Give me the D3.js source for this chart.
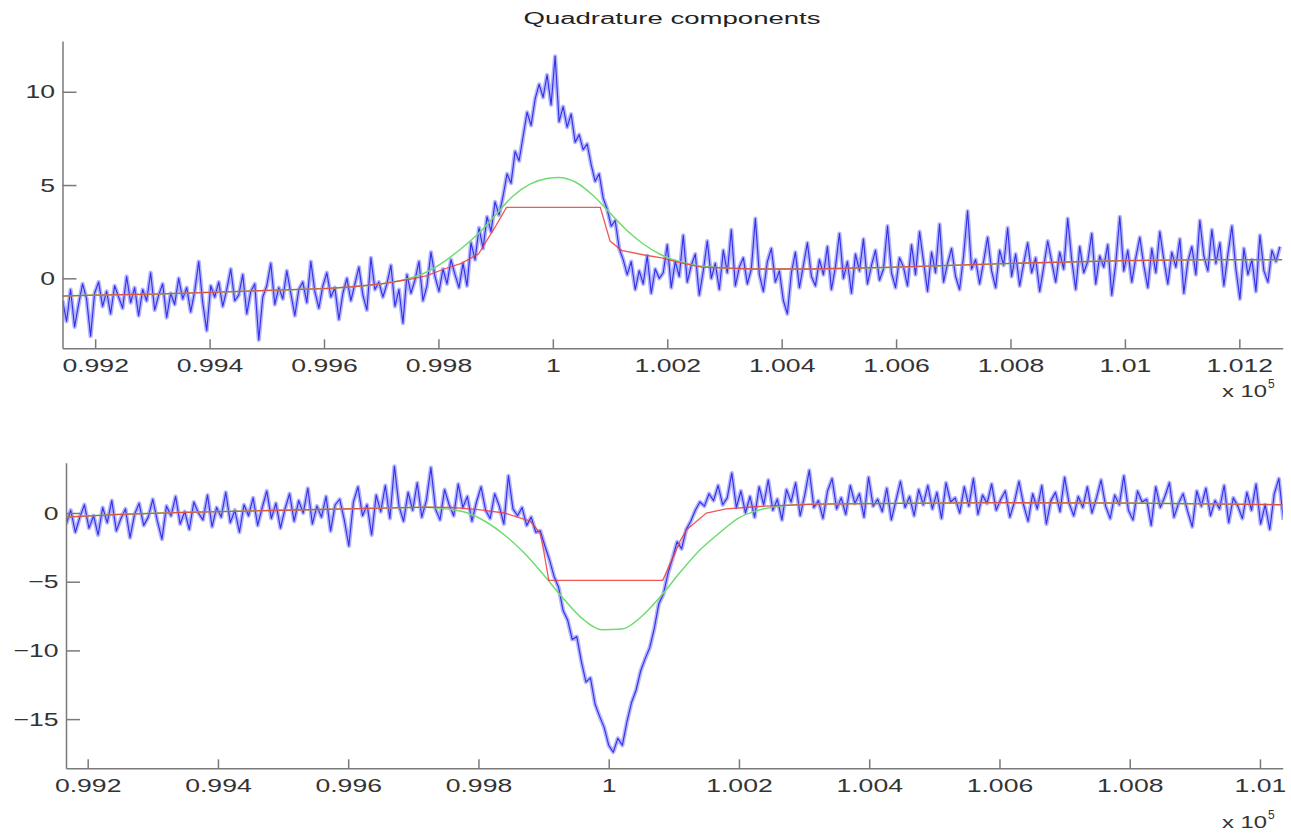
<!DOCTYPE html>
<html>
<head>
<meta charset="utf-8">
<script src="https://cdn.jsdelivr.net/npm/d3@7"></script>
<style>
  body { margin: 0; background: #fff; }
  text { font-family: "Liberation Sans", Arial, Helvetica, sans-serif; }
</style>
</head>
<body>
<script>
let title = "Quadrature components"

// sample spacing of the measured signal (x in units of 1e5)
let sampleStep = 0.00007

// ---- upper panel ----
let topBlueStart = 0.99143
let topBlue = [
  -1.2, -2.3, -0.6, -2.6, -1.4, -0.3, -1.1, -3.1, -0.8, -0.2, -1.5, -0.7, -1.9, -0.4, -1.0, -1.6, 0.1, -1.3, -0.5, -2.0,
  -0.6, -1.2, 0.3, -1.7, -0.9, -0.3, -2.1, -0.8, -1.4, 0.0, -1.1, -0.5, -1.8, -0.7, 0.9, -1.3, -2.8, -0.4, -1.0, -0.2,
  -1.5, -0.6, 0.5, -1.2, -0.9, 0.2, -1.9, -0.7, -0.3, -3.3, -1.0, -0.4, 0.8, -1.4, -0.5, -1.1, 0.4, -0.8, -2.0, -0.6,
  -0.2, -1.3, 0.9, -0.7, -1.6, -0.4, 0.3, -1.0, -0.5, -2.2, -0.8, 0.0, -1.2, -0.3, 0.6, -0.9, -1.7, 1.1, -0.6, -0.2,
  -1.0, -0.3, 0.7, -1.5, -0.6, -2.4, 0.2, -0.8, -0.1, 0.9, -1.2, -0.4, 1.4, 0.1, -0.7, 0.5, -0.3, 1.0, 0.2, -0.5,
  0.8, -0.4, 1.9, 1.0, 2.7, 1.6, 3.3, 2.5, 4.1, 3.4,
  4.4, 5.6, 5.1, 6.8, 6.3, 7.6, 8.9, 8.2, 9.6, 10.4,
  9.7, 10.9, 9.3, 11.9, 8.4, 9.2, 8.1, 8.8, 7.3, 7.7,
  6.9, 7.2, 6.1, 5.2, 5.6, 4.3, 3.7, 2.8, 3.1, 1.6,
  1.0, 0.2, 0.9, -0.6, 0.4, -0.3, 1.2, -0.8, 0.5, 0.0,
  0.3, 1.8, -0.5, 0.9, 0.1, 2.3, -0.2, 0.7, 1.3, -0.9, 0.4, 2.0, 0.0, 0.8, -0.6, 1.5, 0.3, 2.6, -0.4, 0.6,
  1.1, -0.3, 0.5, 3.2, 0.2, -0.7, 0.9, 1.6, -0.2, 0.4, -1.2, -1.9, 0.3, 1.4, -0.5, 0.7, 1.9, 0.1, -0.4, 1.0,
  0.2, 1.7, -0.6, 0.6, 2.4, 0.0, 0.9, -0.8, 1.3, 0.4, 2.1, -0.3, 0.7, 1.5, -0.1, 0.5, 2.8, 0.3, -0.5, 1.1,
  0.6, -0.4, 1.8, 0.2, 2.5, 0.9, -0.7, 1.4, 0.3, 2.9, -0.2, 0.8, 1.6, 0.1, -0.6, 1.2, 3.6, 0.5, 1.0, -0.3,
  0.9, 2.2, 0.4, -0.5, 1.5, 0.7, 2.7, 0.1, 1.3, -0.4, 0.8, 1.9, 0.3, 1.1, -0.7, 0.6, 2.0, 0.9, -0.2, 1.4,
  0.5, 3.2, 1.0, -0.6, 1.7, 0.3, 0.9, 2.4, -0.3, 1.2, 0.6, 1.8, -0.9, 0.8, 3.3, 0.4, 1.5, -0.2, 1.1, 2.2,
  0.7, -0.5, 1.6, 0.3, 2.5, 1.0, -0.3, 1.4, 0.6, 2.1, -0.8, 0.9, 1.7, 0.2, 3.1, 1.2, 0.4, 2.6, 0.8, 1.9,
  -0.4, 1.3, 2.8, 0.5, -1.1, 1.6, 0.2, 1.0, -0.7, 2.3, 0.4, -0.2, 1.5, 0.9, 1.7
]
let topGreenX = [0.9914, 0.9920, 0.9930, 0.9940, 0.9950, 0.9960, 0.9965, 0.9970, 0.9975, 0.9978, 0.9981, 0.9984,
  0.9987, 0.9990, 0.9993, 0.9996, 0.9999, 1.0001, 1.0004, 1.0007, 1.0010, 1.0013, 1.0016, 1.0019, 1.0022, 1.0026,
  1.0035, 1.0045, 1.0060, 1.0080, 1.0100, 1.0115, 1.01275]
let topGreen = [-0.95, -0.9, -0.85, -0.75, -0.65, -0.55, -0.45, -0.3, 0.0, 0.35, 0.9, 1.6,
  2.4, 3.4, 4.4, 5.05, 5.35, 5.4, 5.15, 4.45, 3.5, 2.55, 1.8, 1.25, 0.9, 0.65,
  0.5, 0.5, 0.6, 0.8, 0.95, 1.0, 1.0]
let topRedX = [0.9914, 0.9920, 0.9930, 0.9940, 0.9950, 0.9960, 0.9965, 0.9970, 0.9975, 0.9978, 0.9981, 0.9984,
  0.9987, 0.9990, 0.99919, 1.00083, 1.0010, 1.0012, 1.0016, 1.0019, 1.0022, 1.0026, 1.0035, 1.0045, 1.0060,
  1.0080, 1.0100, 1.0115, 1.01275]
let topRed = [-0.95, -0.9, -0.85, -0.75, -0.65, -0.55, -0.45, -0.3, -0.05, 0.15, 0.5, 0.8,
  1.3, 2.8, 3.8, 3.8, 2.0, 1.5, 1.25, 1.1, 0.85, 0.6, 0.5, 0.5, 0.6,
  0.8, 0.95, 1.0, 1.0]
let topXTicks = [0.992, 0.994, 0.996, 0.998, 1.0, 1.002, 1.004, 1.006, 1.008, 1.010, 1.012]
let topXLabels = ["0.992", "0.994", "0.996", "0.998", "1", "1.002", "1.004", "1.006", "1.008", "1.01", "1.012"]
let topYTicks = [0, 5, 10]

// ---- lower panel ----
let botBlueStart = 0.99167
let botBlue = [
  -0.8, 0.2, -1.4, -0.3, 0.6, -1.1, -0.2, -1.6, 0.4, -0.7, 0.9, -1.3, -0.4, 0.3, -1.8, -0.1, 0.7, -0.9, -0.3, 1.0,
  -0.6, -1.9, 0.5, -0.2, 1.2, -0.8, 0.1, -1.2, 0.8, 0.0, -0.5, 1.3, -1.0, 0.4, -0.3, 1.5, -0.7, 0.2, -1.4, 0.6,
  -0.2, 1.1, -0.9, 0.4, 1.6, -0.4, 0.7, -1.1, 0.3, 1.4, -0.6, 0.9, 0.0, 1.8, -0.8, 0.5, -0.3, 1.2, -1.3, 0.6,
  1.0, -0.5, -2.4, 0.8, 1.9, -0.2, 0.6, -1.6, 1.3, 0.1, 2.0, -0.4, 3.4, 0.5, -0.6, 1.5, 0.2, 2.2, -0.3, 0.9,
  3.3, 0.3, -0.5, 1.7, 0.6, -0.2, 2.1, 0.4, 1.2, -0.6, 0.8, 1.9, 0.2, -0.4, 1.4, 0.5, -0.8, 2.7, 0.3, -0.2,
  0.4, -0.9, -0.3, -1.4, -1.3, -2.4, -3.4, -4.6, -5.4, -7.1,
  -7.8, -9.2, -9.0, -10.8, -12.3, -12.0, -13.9, -14.8, -15.6, -16.9,
  -17.4, -16.4, -16.9, -15.2, -13.8, -12.9, -11.5, -10.6, -9.8, -8.4,
  -6.6, -5.9, -4.4, -3.3, -2.1, -2.6, -1.2, -0.6, 0.2, 0.8,
  0.5, 1.4, 0.9, 2.0, 0.6, 1.1, 2.9, 0.4, 1.6, 0.0,
  1.2, -0.3, 1.9, 0.6, 2.4, 0.2, 1.0, -0.5, 1.7, 0.8, 2.2, -0.2, 1.3, 3.1, 0.4, 0.9, -0.4, 1.6, 2.5, 0.3,
  1.1, -0.1, 2.0, 0.7, 1.4, -0.3, 2.6, 0.5, 1.0, 0.1, 1.8, -0.5, 0.9, 2.3, 0.4, 1.2, -0.2, 1.7, 0.6, 2.0,
  0.3, 1.5, -0.4, 2.2, 0.8, 1.1, 0.0, 1.9, 0.5, 2.5, -0.1, 1.3, 0.7, 2.1, 0.2, 1.0, 1.6, -0.3, 0.8, 2.3,
  0.6, -0.6, 1.4, 0.3, 2.0, -0.8, 0.9, 1.5, 0.1, 2.6, 0.7, -0.2, 1.2, 0.4, 1.9, 0.0, 1.1, 2.4, 0.5, -0.4,
  1.3, 0.6, 2.7, 0.2, -0.5, 1.6, 0.8, 1.0, -0.9, 1.9, 0.4, 1.2, 2.2, -0.3, 0.7, 1.4, 0.1, -1.0, 1.6, 0.5,
  1.8, -0.2, 0.9, 0.3, 2.0, -0.7, 1.1, 0.5, -0.4, 1.5, 0.2, 2.1, -0.8, 0.6, -1.2, 1.4, 2.5, -0.5
]
let botGreenX = [0.99166, 0.9925, 0.9935, 0.9950, 0.9965, 0.9972, 0.9975, 0.9978, 0.9981, 0.9984, 0.9987, 0.9990,
  0.9993, 0.9996, 0.9999, 1.0002, 1.0005, 1.0008, 1.0011, 1.0014, 1.0017, 1.0020, 1.0023, 1.0027, 1.0032,
  1.0045, 1.0060, 1.0080, 1.0095, 1.01035]
let botGreen = [-0.3, -0.1, 0.05, 0.2, 0.35, 0.42, 0.3, 0.05, -0.6, -1.6, -2.9, -4.5,
  -6.2, -7.7, -8.5, -8.45, -7.55, -6.05, -4.3, -2.7, -1.45, -0.35, 0.2, 0.55, 0.65,
  0.7, 0.75, 0.72, 0.65, 0.6]
let botRedX = [0.99166, 0.9925, 0.9935, 0.9950, 0.9965, 0.9972, 0.9976, 0.9980, 0.9984, 0.9986, 0.9988, 0.99895,
  0.9990, 0.99908, 1.00083, 1.00099, 1.0011, 1.0012, 1.0015, 1.0018, 1.0021, 1.0024, 1.0032, 1.0045,
  1.0060, 1.0080, 1.0095, 1.01035]
let botRed = [-0.3, -0.1, 0.05, 0.2, 0.35, 0.42, 0.4, 0.25, 0.0, -0.3, -0.6, -1.5,
  -2.7, -4.9, -4.9, -3.2, -2.0, -1.2, 0.0, 0.3, 0.4, 0.5, 0.65, 0.7,
  0.75, 0.72, 0.65, 0.6]
let botXTicks = [0.992, 0.994, 0.996, 0.998, 1.0, 1.002, 1.004, 1.006, 1.008, 1.010]
let botXLabels = ["0.992", "0.994", "0.996", "0.998", "1", "1.002", "1.004", "1.006", "1.008", "1.01"]
let botYTicks = [-15, -10, -5, 0]

// ---- layout ----
let fontStack = '"Liberation Sans", Arial, Helvetica, sans-serif'
let stretch = 1.4   // the source picture is stretched sideways

let panels = [
  { id: 'top', left: 62.5, right: 1282.7, top: 41, bottom: 348.3,
    xDomain: [0.991429, 1.012758], yDomain: [-3.75, 12.72],
    blueStart: topBlueStart, blue: topBlue, greenX: topGreenX, green: topGreen, redX: topRedX, red: topRed,
    xTicks: topXTicks, xLabels: topXLabels, yTicks: topYTicks, expY: 397 },
  { id: 'bot', left: 66, right: 1282.7, top: 462.7, bottom: 768.3,
    xDomain: [0.991667, 1.010349], yDomain: [-18.58, 3.66],
    blueStart: botBlueStart, blue: botBlue, greenX: botGreenX, green: botGreen, redX: botRedX, red: botRed,
    xTicks: botXTicks, xLabels: botXLabels, yTicks: botYTicks, expY: 828 }
]

let svg = d3.select('body')
  .append('svg')
  .attr('width', 1291)
  .attr('height', 833)

svg.append('text')
  .attr('x', 672)
  .attr('y', 24)
  .attr('text-anchor', 'middle')
  .attr('font-size', 16)
  .attr('fill', '#222')
  .attr('textLength', 297)
  .attr('lengthAdjust', 'spacingAndGlyphs')
  .text(title)

function drawPanel(p) {
  let x = d3.scaleLinear().domain(p.xDomain).range([p.left, p.right])
  let y = d3.scaleLinear().domain(p.yDomain).range([p.bottom, p.top])

  svg.append('clipPath')
    .attr('id', 'clip-' + p.id)
    .append('rect')
    .attr('x', p.left).attr('y', p.top)
    .attr('width', p.right - p.left).attr('height', p.bottom - p.top)

  let plot = svg.append('g').attr('clip-path', `url(#clip-${p.id})`)

  let blueLine = d3.line()
    .x((d, i) => x(p.blueStart + i * sampleStep))
    .y(d => y(d))

  // soft halo + core to mimic the blurry blue trace
  plot.append('path')
    .attr('d', blueLine(p.blue))
    .attr('fill', 'none')
    .attr('stroke', '#9a9aff')
    .attr('stroke-width', 4.2)
    .attr('stroke-opacity', 0.75)
    .attr('stroke-linejoin', 'round')
  plot.append('path')
    .attr('d', blueLine(p.blue))
    .attr('fill', 'none')
    .attr('stroke', '#3030e4')
    .attr('stroke-width', 1.1)
    .attr('stroke-linejoin', 'round')

  let greenLine = d3.line()
    .x((d, i) => x(p.greenX[i]))
    .y(d => y(d))
    .curve(d3.curveMonotoneX)
  plot.append('path')
    .attr('d', greenLine(p.green))
    .attr('fill', 'none')
    .attr('stroke', '#6edc6e')
    .attr('stroke-width', 1.5)

  let redLine = d3.line()
    .x((d, i) => x(p.redX[i]))
    .y(d => y(d))
  plot.append('path')
    .attr('d', redLine(p.red))
    .attr('fill', 'none')
    .attr('stroke', '#f03a3a')
    .attr('stroke-width', 1.3)
    .attr('stroke-opacity', 0.85)

  let xAxis = d3.axisBottom(x)
    .tickValues(p.xTicks)
    .tickFormat((d, i) => p.xLabels[i])
    .tickSizeInner(-9)
    .tickSizeOuter(0)
    .tickPadding(10)

  let yAxis = d3.axisLeft(y)
    .tickValues(p.yTicks)
    .tickSizeInner(-14)
    .tickSizeOuter(0)
    .tickPadding(7.5)

  let gx = svg.append('g')
    .attr('transform', `translate(0,${p.bottom})`)
    .call(xAxis)
  let gy = svg.append('g')
    .attr('transform', `translate(${p.left},0)`)
    .call(yAxis)

  for (let g of [gx, gy]) {
    g.attr('font-family', fontStack).attr('font-size', 19)
    g.selectAll('.domain, .tick line')
      .attr('stroke', '#7a7a7a')
      .attr('stroke-width', 1.5)
    g.selectAll('text')
      .attr('fill', '#333')
      .attr('transform', `scale(${stretch},1)`)
  }
  gy.selectAll('text').attr('x', -7.5 / stretch)

  // MATLAB style exponent label
  let exp = svg.append('text')
    .attr('x', 1222)
    .attr('y', p.expY)
    .attr('font-size', 17)
    .attr('fill', '#333')
  exp.append('tspan')
    .attr('textLength', 45)
    .attr('lengthAdjust', 'spacingAndGlyphs')
    .text('x 10')
  svg.append('text')
    .attr('x', 1268)
    .attr('y', p.expY - 9)
    .attr('font-size', 12)
    .attr('fill', '#333')
    .text('5')
}

panels.forEach(drawPanel)
</script>
</body>
</html>
